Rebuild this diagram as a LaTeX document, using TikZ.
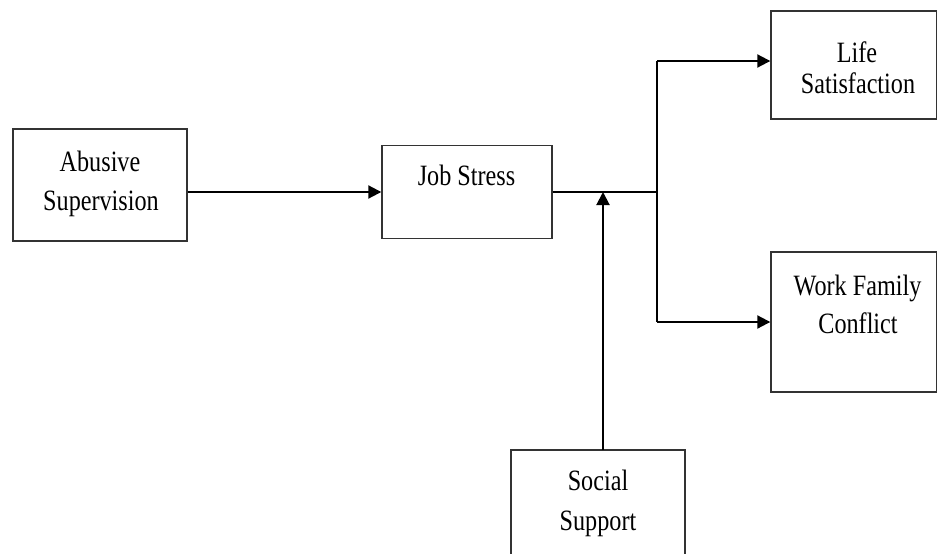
\documentclass[tikz,border=0pt]{standalone}
\usepackage{fontspec}
\setmainfont{Liberation Serif}[FakeStretch=0.82]
\usetikzlibrary{arrows.meta}
\begin{document}
\begin{tikzpicture}[x=1pt,y=-1pt,
  box/.style={draw=black!80,line width=1.4pt,inner sep=0pt,rectangle},
  lbl/.style={font=\fontsize{29.5}{34}\selectfont,inner sep=0pt,anchor=base},
  arr/.style={line width=2pt,-{Triangle[length=13pt,width=13pt]}},
  ln/.style={line width=2pt}]
\useasboundingbox (0,0) rectangle (937,554);
\clip (0,0) rectangle (937,554);
\fill[white] (0,0) rectangle (937,554);
% boxes
\node[box,minimum width=174pt,minimum height=112pt] (abuse) at (100,185) {};
\node[box,minimum width=170pt,minimum height=93pt] (job) at (467,192) {};
\node[box,minimum width=166pt,minimum height=108pt] (life) at (854,65) {};
\node[box,minimum width=166pt,minimum height=140pt] (wfc) at (854,322) {};
\node[box,minimum width=174pt,minimum height=120pt] (ss) at (598,510) {};
% texts
\node[lbl] (abuseA) at (100,171) {Abusive};
\node[lbl] (abuseB) at (101,210) {Supervision};
\node[lbl] (jobA) at (466.5,185) {Job Stress};
\node[lbl] (lifeA) at (857,62) {Life};
\node[lbl] (lifeB) at (858,93) {Satisfaction};
\node[lbl] (wfcA) at (857.5,295) {Work Family};
\node[lbl] (wfcB) at (858,333) {Conflict};
\node[lbl] (ssA) at (598,490) {Social};
\node[lbl] (ssB) at (598,530) {Support};
% connectors
\coordinate (jn) at (657,192);
\coordinate (top) at (657,61);
\coordinate (bot) at (657,322);
\coordinate (mod) at (603,192);
\coordinate (modS) at (603,450);
\draw[arr] (job.west -| abuse.east) -- (job.west);
\draw[ln] (job.east) -- (jn);
\draw[ln] (top) -- (bot);
\draw[arr] (top) -- (top -| life.west);
\draw[arr] (bot) -- (wfc.west);
\draw[arr] (modS) -- (mod);
\end{tikzpicture}
\end{document}
